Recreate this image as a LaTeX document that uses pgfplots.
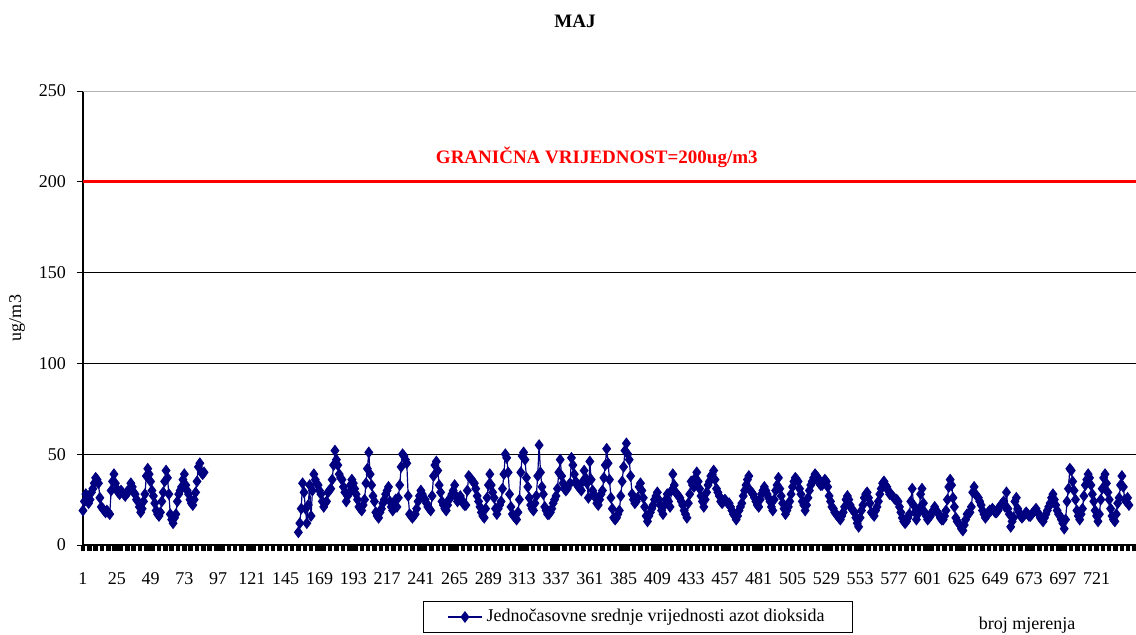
\documentclass[border=0pt]{standalone}
\usepackage{fontspec}
\setmainfont{Liberation Serif}
\usepackage{pgfplots}
\usepackage{pgfplotstable}
\pgfplotsset{compat=1.18}
\definecolor{navyc}{HTML}{000080}
\pgfplotstableread[row sep=\\]{
y\\
19\\24\\28\\26\\23\\25\\29\\31\\34\\37\\
36\\34\\26\\21\\20\\19\\18\\19\\18\\17\\
30\\35\\39\\34\\31\\29\\28\\30\\29\\28\\
27\\29\\29\\31\\34\\32\\29\\28\\25\\24\\
21\\18\\20\\24\\28\\38\\42\\39\\35\\30\\
27\\23\\19\\17\\16\\18\\24\\29\\35\\41\\
37\\28\\17\\14\\12\\15\\17\\24\\28\\30\\
32\\36\\39\\33\\30\\28\\25\\23\\22\\25\\
29\\35\\43\\45\\40\\39\\40\\
nan\\nan\\nan\\nan\\nan\\nan\\nan\\nan\\nan\\nan\\
nan\\nan\\nan\\nan\\nan\\nan\\nan\\nan\\nan\\nan\\
nan\\nan\\nan\\nan\\nan\\nan\\nan\\nan\\nan\\nan\\
nan\\nan\\nan\\nan\\nan\\nan\\nan\\nan\\nan\\nan\\
nan\\nan\\nan\\nan\\nan\\nan\\nan\\nan\\nan\\nan\\
nan\\nan\\nan\\nan\\nan\\nan\\nan\\nan\\nan\\nan\\
nan\\nan\\nan\\nan\\nan\\nan\\
7\\12\\20\\34\\29\\20\\12\\
22\\33\\16\\30\\39\\36\\34\\33\\30\\28\\
24\\21\\23\\24\\29\\30\\31\\36\\44\\52\\
47\\44\\39\\37\\36\\32\\29\\24\\27\\29\\
33\\36\\34\\31\\28\\25\\21\\20\\19\\22\\
25\\34\\42\\51\\39\\33\\27\\24\\18\\16\\
15\\18\\20\\23\\25\\28\\30\\32\\24\\21\\
19\\23\\25\\21\\26\\33\\43\\50\\49\\47\\
45\\27\\17\\16\\15\\16\\17\\20\\24\\27\\
30\\28\\26\\25\\23\\21\\
20\\19\\27\\38\\
44\\46\\41\\33\\29\\24\\22\\20\\19\\22\\
25\\26\\28\\30\\33\\27\\24\\25\\27\\25\\
23\\22\\22\\30\\38\\37\\36\\35\\34\\31\\
27\\24\\21\\18\\16\\15\\20\\26\\33\\39\\
33\\29\\26\\20\\17\\20\\22\\24\\31\\39\\
50\\48\\40\\28\\21\\17\\16\\15\\14\\18\\
25\\40\\49\\51\\47\\37\\32\\26\\22\\20\\
19\\23\\27\\38\\55\\40\\32\\28\\21\\19\\
17\\17\\18\\20\\23\\25\\27\\31\\40\\47\\
38\\34\\31\\30\\31\\33\\34\\48\\44\\39\\
35\\33\\32\\31\\30\\35\\41\\37\\34\\26\\
46\\36\\30\\28\\26\\23\\22\\25\\
28\\30\\
37\\44\\53\\45\\36\\26\\20\\15\\14\\15\\
17\\19\\27\\35\\43\\52\\56\\50\\47\\38\\
28\\25\\23\\24\\26\\32\\34\\30\\26\\21\\
16\\13\\16\\18\\20\\22\\25\\27\\29\\25\\
22\\19\\17\\22\\25\\28\\24\\21\\30\\39\\
33\\29\\28\\27\\26\\24\\22\\19\\17\\15\\
23\\28\\35\\33\\32\\37\\40\\35\\31\\27\\
24\\21\\25\\29\\33\\35\\38\\39\\41\\36\\
31\\29\\27\\24\\23\\24\\25\\24\\23\\23\\
21\\19\\17\\16\\14\\16\\19\\21\\23\\27\\
30\\33\\36\\38\\30\\29\\28\\26\\24\\22\\
21\\25\\28\\30\\32\\30\\28\\26\\
24\\21\\
19\\25\\30\\33\\37\\31\\27\\23\\20\\17\\
19\\21\\24\\28\\32\\35\\37\\36\\35\\31\\
28\\24\\22\\19\\22\\26\\30\\33\\35\\37\\
39\\38\\37\\34\\33\\33\\34\\36\\35\\32\\
27\\24\\21\\20\\18\\17\\16\\15\\14\\16\\
18\\21\\25\\27\\25\\22\\20\\19\\18\\15\\
12\\10\\15\\19\\22\\26\\28\\29\\26\\23\\
18\\17\\16\\19\\21\\24\\28\\31\\34\\35\\
33\\32\\30\\28\\28\\27\\26\\25\\25\\24\\
21\\18\\15\\13\\12\\13\\15\\17\\24\\31\\
22\\18\\14\\17\\20\\28\\31\\23\\18\\16\\
14\\15\\16\\18\\19\\21\\19\\18\\17\\
15\\
14\\14\\16\\19\\25\\32\\36\\33\\26\\21\\
15\\13\\12\\11\\9\\8\\11\\14\\17\\17\\
18\\21\\29\\32\\28\\27\\26\\24\\22\\19\\
17\\15\\16\\18\\19\\19\\20\\19\\18\\18\\
19\\21\\22\\23\\24\\21\\29\\20\\17\\10\\
13\\15\\24\\26\\20\\18\\16\\15\\16\\17\\
18\\17\\16\\16\\17\\18\\19\\20\\18\\17\\
15\\14\\13\\15\\17\\19\\21\\23\\26\\28\\
25\\22\\19\\17\\16\\14\\12\\9\\14\\24\\
31\\42\\41\\35\\30\\25\\19\\16\\14\\17\\
20\\27\\33\\36\\39\\37\\33\\28\\24\\19\\
16\\13\\17\\25\\31\\37\\39\\34\\29\\25\\
20\\16\\14\\13\\17\\23\\26\\33\\38\\32\\
25\\24\\26\\22\\
}\nodata
\begin{document}
\begin{tikzpicture}[x=1pt,y=1pt]
\useasboundingbox (0,0) rectangle (568,317);
\begin{axis}[
  at={(41.5pt,44.5pt)}, anchor=south west,
  scale only axis, width=526.5pt, height=227pt,
  xmin=1, xmax=749, ymin=0, ymax=250,
  clip=false,
  axis lines=left,
  axis line style={-, black, line width=0.6pt},
  ytick={0,50,...,200},
  extra y ticks={250},
  extra y tick style={grid style={gray!60, line width=0.5pt}},
  ymajorgrids,
  grid style={black, line width=0.5pt},
  xtick={1,25,...,721},
  minor xtick={1,5.5,...,749},
  tick align=outside,
  major tick length=3pt, minor tick length=3pt,
  xtick style={black, line width=2.2pt},
  ytick style={black, line width=0.5pt},
  ticklabel style={font=\fontsize{9}{10}\selectfont},
  /pgf/number format/assume math mode=true,
  xticklabel style={yshift=-7.4pt},
  yticklabel style={xshift=-2pt},
  unbounded coords=jump,
  legend style={at={(0.527,-0.1586)}, anchor=center, draw=black, line width=0.5pt,
    font=\fontsize{9}{10}\selectfont, inner xsep=12pt, inner ysep=2pt},
  legend cell align=left,
]
\addplot[red, line width=1.6pt, forget plot] coordinates {(1,200) (749,200)};
\addplot[color=navyc, line width=0.6pt, mark=diamond*, mark size=2.5pt,
  mark options={solid, fill=navyc, draw=navyc}]
  table[x expr=\coordindex+1, y=y] {\nodata};
\addlegendentry{Jednočasovne srednje vrijednosti azot dioksida}
\node[red, font=\bfseries\fontsize{9.5}{11}\selectfont] at (axis cs:366,213.6) {GRANIČNA VRIJEDNOST=200ug/m3};
\end{axis}
\node[font=\bfseries\fontsize{9.5}{11}\selectfont] at (287.5,306.5) {MAJ};
\node[rotate=90, font=\fontsize{9}{10}\selectfont] at (8.5,158) {ug/m3};
\node[font=\fontsize{9}{10}\selectfont] at (513.5,4.5) {broj mjerenja};
\end{tikzpicture}
\end{document}
